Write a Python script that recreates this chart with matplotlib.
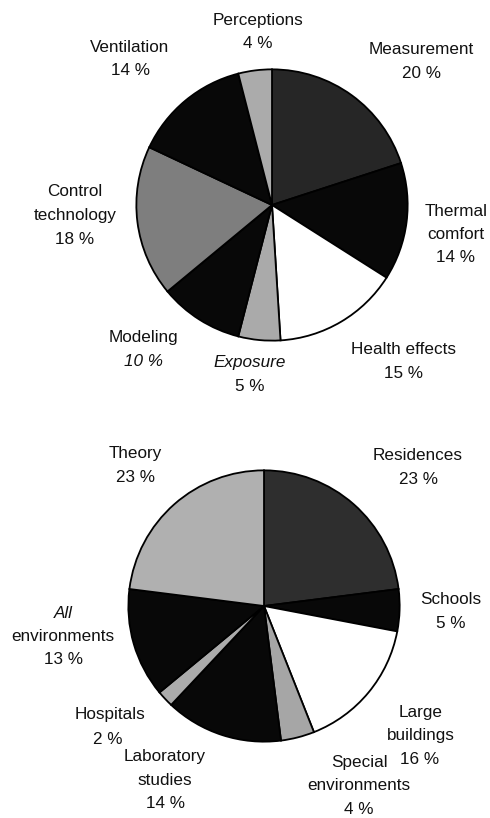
import matplotlib
matplotlib.use("Agg")
import matplotlib.pyplot as plt

plt.rcParams['font.family'] = ['Liberation Sans', 'DejaVu Sans']

# ---- Data ----
top_categories = ["Measurement", "Thermal comfort", "Health effects", "Exposure",
                  "Modeling", "Control technology", "Ventilation", "Perceptions"]
top_values = [20, 14, 15, 5, 10, 18, 14, 4]
top_colors = ["#262626", "#080808", "#ffffff", "#aaaaaa",
              "#080808", "#7e7e7e", "#080808", "#ababab"]

bottom_categories = ["Residences", "Schools", "Large buildings", "Special environments",
                     "Laboratory studies", "Hospitals", "All environments", "Theory"]
bottom_values = [23, 5, 16, 4, 14, 2, 13, 23]
bottom_colors = ["#2e2e2e", "#080808", "#ffffff", "#a6a6a6",
                 "#080808", "#ababab", "#080808", "#b0b0b0"]

# label lines: (lines, x_px, y_px of first line, italic flags)
top_label_pos = {
    "Perceptions": ([ "Perceptions", "4 %"], 258, 20, [False, False]),
    "Ventilation": (["Ventilation", "14 %"], 130, 47, [False, False]),
    "Measurement": (["Measurement", "20 %"], 421, 50, [False, False]),
    "Control technology": (["Control", "technology", "18 %"], 75, 192, [False, False, False]),
    "Thermal comfort": (["Thermal", "comfort", "14 %"], 456, 211, [False, False, False]),
    "Modeling": (["Modeling", "10 %"], 143, 338, [False, True]),
    "Exposure": (["Exposure", "5 %"], 250, 363, [True, False]),
    "Health effects": (["Health effects", "15 %"], 403, 350, [False, False]),
}
bottom_label_pos = {
    "Theory": (["Theory", "23 %"], 135, 454, [False, False]),
    "Residences": (["Residences", "23 %"], 418, 456, [False, False]),
    "Schools": (["Schools", "5 %"], 451, 600, [False, False]),
    "All environments": (["All", "environments", "13 %"], 63, 613, [True, False, False]),
    "Hospitals": (["Hospitals"], 110, 715, [False]),
    "Hospitals2": (["2 %"], 108, 739, [False]),
    "Large buildings": (["Large", "buildings"], 421, 712, [False, False]),
    "Large buildings2": (["16 %"], 420, 760, [False]),
    "Special environments": (["Special", "environments", "4 %"], 359, 762, [False, False, False]),
    "Laboratory studies": (["Laboratory", "studies", "14 %"], 165, 757, [False, False, False]),
}

W, H = 490, 818
fig = plt.figure(figsize=(W / 100, H / 100), dpi=100)
fig.patch.set_facecolor("white")


def add_pie(cx, cy, r, values, colors):
    ax = fig.add_axes([(cx - r) / W, (H - cy - r) / H, 2 * r / W, 2 * r / H])
    ax.pie(values, colors=colors, startangle=90, counterclock=False, radius=1,
           wedgeprops=dict(edgecolor="black", linewidth=1.3))
    ax.set_xlim(-1.01, 1.01)
    ax.set_ylim(-1.01, 1.01)
    ax.set_aspect("equal")
    ax.axis("off")
    return ax


add_pie(272, 205, 137, top_values, top_colors)
add_pie(264, 606, 137, bottom_values, bottom_colors)

LINE = 23.5
FS = 12.3
for d in (top_label_pos, bottom_label_pos):
    for key, (lines, x, y, ital) in d.items():
        for i, (ln, it) in enumerate(zip(lines, ital)):
            fig.text(x / W, 1 - (y + i * LINE) / H, ln, ha="center", va="center",
                     fontsize=FS, style="italic" if it else "normal", color="#111111")

fig.savefig("out.png", dpi=100, facecolor="white")
